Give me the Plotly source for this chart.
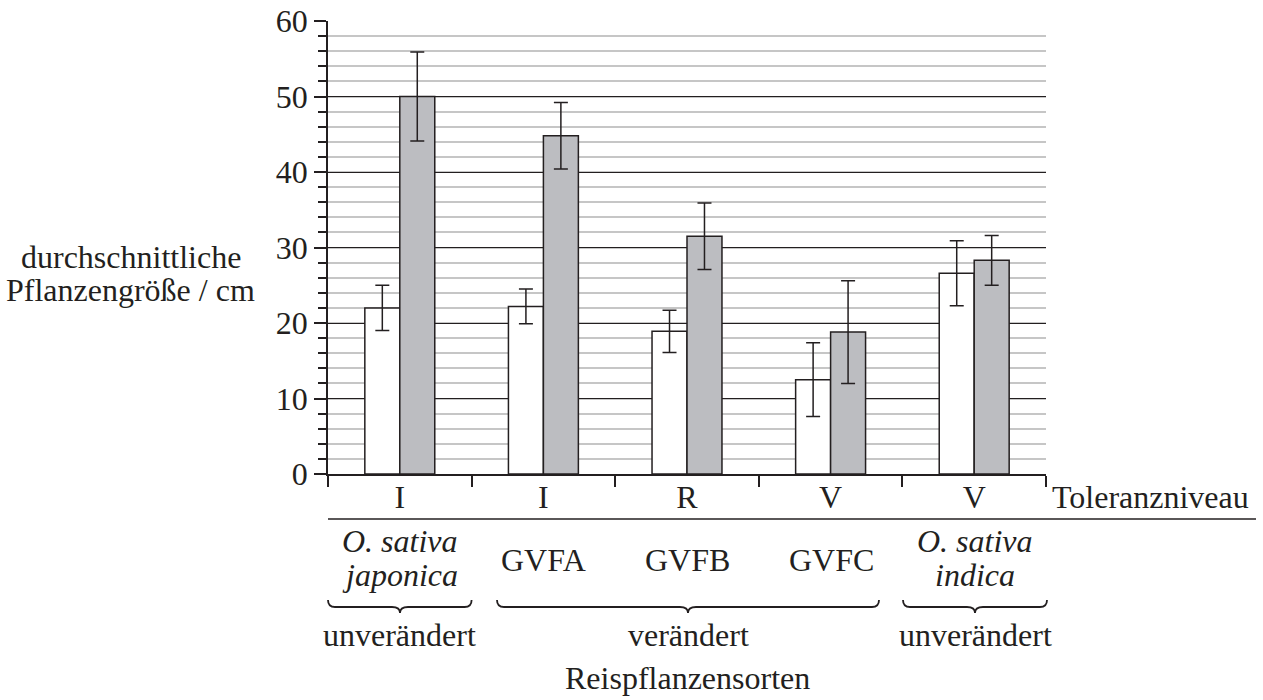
import plotly.graph_objects as go

# ---- data ----
sorten = ["O. sativa japonica", "GVFA", "GVFB", "GVFC", "O. sativa indica"]
toleranz = ["I", "I", "R", "V", "V"]
hell_werte = [22.0, 22.2, 18.9, 12.5, 26.6]
hell_fehler = [3.0, 2.3, 2.8, 4.9, 4.3]
grau_werte = [50.0, 44.8, 31.5, 18.8, 28.3]
grau_fehler = [5.9, 4.4, 4.4, 6.8, 3.3]
y_ticks = [0, 10, 20, 30, 40, 50, 60]

FONT = "Liberation Serif"
FS = 32
INK = "#231f20"
W, H = 1263, 700
ML, MR, MT, MB = 328, 217, 21, 226
PW, PH = W - ML - MR, H - MT - MB


def px(x):
    return (x - ML) / PW


def py(y):
    return (H - MB - y) / PH


fig = go.Figure()
fig.add_trace(go.Bar(
    x=sorten, y=hell_werte, marker=dict(color="white", line=dict(color=INK, width=1.5)),
    error_y=dict(type="data", array=hell_fehler, color=INK, thickness=1.5, width=7),
    showlegend=False))
fig.add_trace(go.Bar(
    x=sorten, y=grau_werte, marker=dict(color="#bcbdc1", line=dict(color=INK, width=1.5)),
    error_y=dict(type="data", array=grau_fehler, color=INK, thickness=1.5, width=7),
    showlegend=False))

fig.update_layout(
    template="none",
    width=W, height=H,
    margin=dict(l=ML, r=MR, t=MT, b=MB, pad=0),
    paper_bgcolor="white", plot_bgcolor="white",
    barmode="group", bargap=0.513, bargroupgap=0,
    font=dict(family=FONT, size=FS, color=INK),
    showlegend=False,
)
fig.update_xaxes(
    type="category", tickmode="array", tickvals=sorten, ticktext=toleranz,
    tickson="boundaries", ticks="outside", ticklen=11, tickwidth=1.5, tickcolor=INK,
    showline=True, linecolor=INK, linewidth=1.5, showgrid=False, zeroline=False,
    tickfont=dict(family=FONT, size=FS, color=INK), automargin=False,
    ticklabelstandoff=-6,
)
fig.update_yaxes(
    range=[0, 60], tickmode="array", tickvals=y_ticks,
    ticks="outside", ticklen=12, tickwidth=1.5, tickcolor=INK,
    showline=True, linecolor=INK, linewidth=1.5,
    showgrid=True, gridcolor=INK, gridwidth=1.3, zeroline=False,
    tickfont=dict(family=FONT, size=FS, color=INK), automargin=False,
    minor=dict(dtick=2, ticks="outside", ticklen=8, tickwidth=1.5, tickcolor=INK,
               showgrid=True, gridcolor="#c6c6c6", gridwidth=1.5),
)

ann = []


def text(t, x, y, anchor="center"):
    ann.append(dict(text=t, x=px(x), y=py(y), xref="paper", yref="paper",
                    xanchor=anchor, yanchor="middle", showarrow=False,
                    font=dict(family=FONT, size=FS, color=INK)))


text("durchschnittliche", 131, 257)
text("Pflanzengröße / cm", 131, 290)
text("Toleranzniveau", 1050, 497, "left")
text("<i>O. sativa</i>", 400, 541)
text("<i>japonica</i>", 400, 575)
text("GVFA", 543, 560)
text("GVFB", 687, 560)
text("GVFC", 831, 560)
text("<i>O. sativa</i>", 975, 541)
text("<i>indica</i>", 975, 575)
text("unverändert", 399, 635)
text("verändert", 688, 635)
text("unverändert", 975, 635)
text("Reispflanzensorten", 687, 678)

shapes = [dict(type="line", xref="paper", yref="paper", x0=px(328), x1=px(1256),
               y0=py(519), y1=py(519), line=dict(color=INK, width=1.5))]


def brace(x0, x1, xm, ytop=600, yl=607, ytip=613):
    pts = [
        f"M {px(x0)},{py(ytop)}",
        f"Q {px(x0)},{py(yl)} {px(x0 + 7)},{py(yl)}",
        f"L {px(xm - 8)},{py(yl)}",
        f"Q {px(xm)},{py(yl)} {px(xm)},{py(ytip)}",
        f"Q {px(xm)},{py(yl)} {px(xm + 8)},{py(yl)}",
        f"L {px(x1 - 7)},{py(yl)}",
        f"Q {px(x1)},{py(yl)} {px(x1)},{py(ytop)}",
    ]
    shapes.append(dict(type="path", xref="paper", yref="paper", path=" ".join(pts),
                       line=dict(color=INK, width=1.8)))


brace(328, 471.6, 400)
brace(497, 879, 688)
brace(903, 1047, 975)

fig.update_layout(annotations=ann, shapes=shapes)
fig.write_html("out.html", config={"displayModeBar": False},
               post_script="document.body.style.margin='0px';document.body.style.overflow='hidden';")
